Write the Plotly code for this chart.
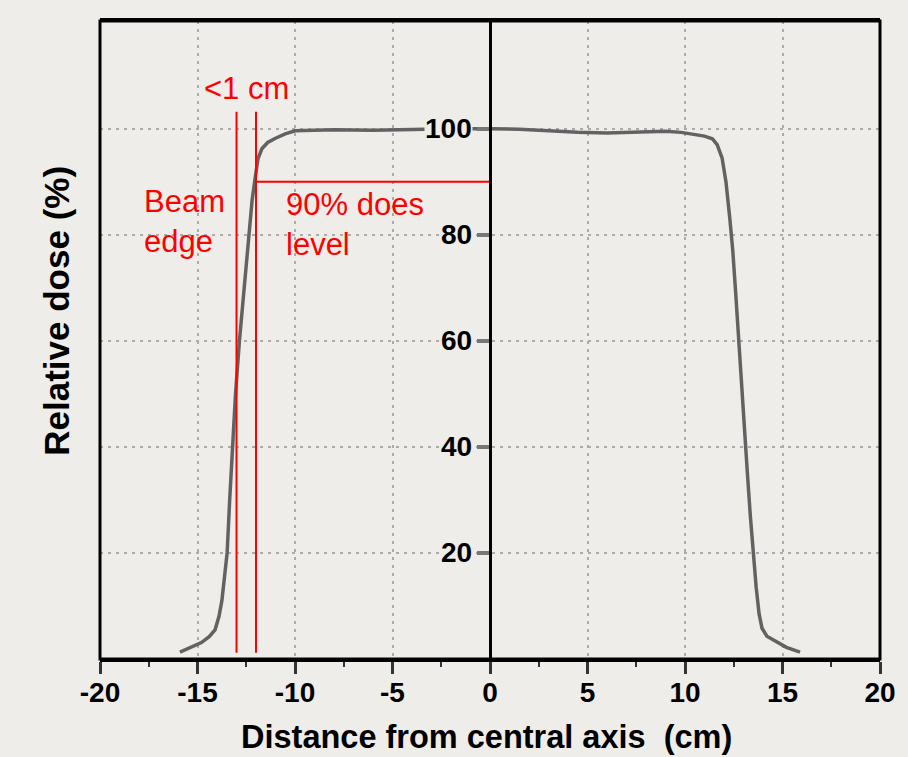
import plotly.graph_objects as go

# Transverse beam profile: distance from the central axis (cm) vs relative dose (%)
distance_cm = [
    -15.9, -15.3, -14.8, -14.4, -14.1, -13.9, -13.75, -13.6, -13.48, -13.35,
    -13.2, -13.05, -12.85, -12.55, -12.37, -12.2, -12.05, -11.9, -11.7, -11.4,
    -11.0, -10.5, -10.0, -8.0, -6.0, -4.0, -2.0, 0.0,
    1.5, 3.0, 4.5, 6.0, 7.5, 9.0, 9.8, 10.5, 11.0, 11.4,
    11.65, 11.9, 12.1, 12.3, 12.45, 12.6, 12.75, 12.9, 13.05, 13.2,
    13.35, 13.5, 13.65, 13.8, 13.95, 14.2, 14.6, 15.2, 15.9,
]
relative_dose = [
    1.3, 2.2, 3.1, 4.2, 5.5, 8.0, 11.0, 16.0, 20.0, 30.0,
    40.0, 50.0, 60.0, 72.0, 80.0, 86.5, 90.5, 94.3, 96.2, 97.4,
    98.2, 99.0, 99.6, 99.8, 99.7, 99.9, 100.0, 100.0,
    99.9, 99.6, 99.3, 99.2, 99.4, 99.5, 99.3, 98.9, 98.6, 98.1,
    97.0, 94.5, 90.0, 83.0, 77.0, 69.0, 60.0, 51.0, 43.0, 35.0,
    27.0, 20.0, 13.5, 8.5, 5.8, 4.3, 3.4, 2.2, 1.3,
]

# Axis ticks
x_ticks = [-20, -15, -10, -5, 0, 5, 10, 15, 20]
x_tick_text = ["-20", "-15", "-10", "-5", "0", "5", "10", "15", "20"]
x_minor_ticks = [-17.5, -12.5, -7.5, -2.5, 2.5, 7.5, 12.5, 17.5]
y_ticks = [20, 40, 60, 80, 100]
y_tick_text = ["20", "40", "60", "80", "100"]

# Penumbra markers
beam_edge_x = -13.0
level90_x = -12.0
level90_dose = 90.0
marker_bottom = 1.2
marker_top = 103.2

BG = "#efede9"
RED = "#ff0000"
FONT = "Liberation Sans, Arial, sans-serif"

fig = go.Figure()

fig.add_trace(go.Scatter(
    x=distance_cm, y=relative_dose, mode="lines",
    line=dict(color="#626262", width=3.5),
    hoverinfo="skip",
))

# Beam edge and 90% level markers
for xv in (beam_edge_x, level90_x):
    fig.add_trace(go.Scatter(
        x=[xv, xv], y=[marker_bottom, marker_top], mode="lines",
        line=dict(color=RED, width=2), hoverinfo="skip",
    ))
fig.add_trace(go.Scatter(
    x=[level90_x, 0], y=[level90_dose, level90_dose], mode="lines",
    line=dict(color=RED, width=2), hoverinfo="skip",
))

grid = dict(showgrid=True, gridcolor="#ababab", gridwidth=1.5, griddash="3px,5px")

fig.update_layout(
    width=908, height=757,
    margin=dict(l=100, r=22, t=21, b=98),
    paper_bgcolor=BG, plot_bgcolor=BG,
    showlegend=False,
    xaxis=dict(
        range=[-20, 20], tickvals=x_ticks, ticktext=x_tick_text,
        ticks="outside", ticklen=12, tickwidth=2.5, tickcolor="#333",
        showline=True, linewidth=3, linecolor="black", mirror=True,
        zeroline=False, ticklabelstandoff=-6,
        tickfont=dict(family=FONT, size=28, color="black", weight="bold"),
        minor=dict(tickvals=x_minor_ticks, ticks="outside", ticklen=5,
                   tickwidth=2, tickcolor="#333", showgrid=False),
        **grid,
    ),
    yaxis=dict(
        range=[0, 120.3], tickvals=y_ticks, showticklabels=False,
        ticks="outside", ticklen=12, tickwidth=4, tickcolor="#777",
        anchor="free", position=0.5,
        showline=True, linewidth=3, linecolor="black",
        zeroline=False,
        **grid,
    ),
)

# Plot frame
fig.add_shape(type="rect", xref="paper", yref="paper", x0=0, x1=1, y0=0, y1=1,
              line=dict(color="black", width=3), layer="above")

# Dose tick labels beside the central axis
for v, t in zip(y_ticks, y_tick_text):
    fig.add_annotation(
        x=0, y=v, xref="x", yref="y", text=t, showarrow=False,
        xanchor="right", yanchor="middle", xshift=-17, borderpad=0,
        bgcolor=BG, font=dict(family=FONT, size=28, color="black", weight="bold"),
    )

# Axis titles
fig.add_annotation(
    x=0.495, y=-0.122, xref="paper", yref="paper",
    text="Distance from central axis  (cm)", showarrow=False,
    xanchor="center", yanchor="middle",
    font=dict(family=FONT, size=32.5, color="black", weight="bold"),
)
fig.add_annotation(
    x=-0.055, y=0.546, xref="paper", yref="paper",
    text="Relative dose (%)", showarrow=False, textangle=-90,
    xanchor="center", yanchor="middle",
    font=dict(family=FONT, size=35, color="black", weight="bold"),
)

# Red explanatory labels
red_font = dict(family=FONT, size=31, color=RED)
fig.add_annotation(x=-12.5, y=107.5, xref="x", yref="y", text="<1 cm",
                   showarrow=False, xanchor="center", yanchor="middle", font=red_font)
fig.add_annotation(x=-17.85, y=82.5, xref="x", yref="y", text="Beam<br>edge",
                   showarrow=False, xanchor="left", yanchor="middle", align="left",
                   font=red_font)
fig.add_annotation(x=-10.55, y=82.0, xref="x", yref="y", text="90% does<br>level",
                   showarrow=False, xanchor="left", yanchor="middle", align="left",
                   font=red_font)

fig.write_html("out.html")
